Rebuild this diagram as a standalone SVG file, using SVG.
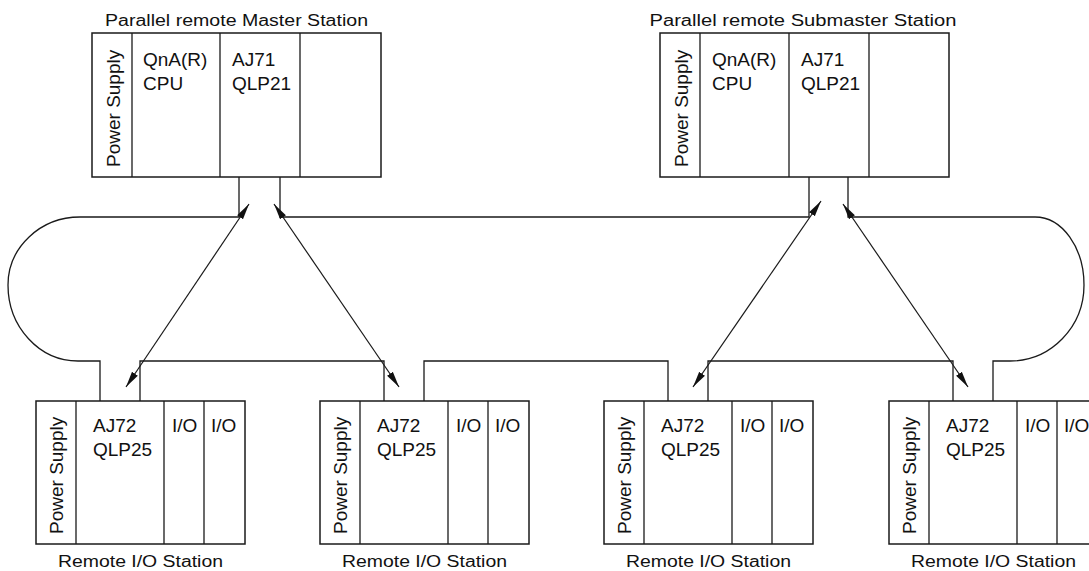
<svg xmlns="http://www.w3.org/2000/svg" width="1089" height="571" viewBox="0 0 1089 571">
<style>
  .bx{fill:#fff;stroke:#1a1a1a;stroke-width:1.5}
  .dv{stroke:#1a1a1a;stroke-width:1.3}
  .t{font-family:"Liberation Sans",Arial,sans-serif;font-size:19px;fill:#111}
  .ps{font-family:"Liberation Sans",Arial,sans-serif;font-size:19px;fill:#111}
  .cap{font-family:"Liberation Sans",Arial,sans-serif;font-size:16px;fill:#111;text-anchor:middle}
  .wire{fill:none;stroke:#1a1a1a;stroke-width:1.3}
  .arr{fill:none;stroke:#1a1a1a;stroke-width:1.2;marker-start:url(#ah);marker-end:url(#ah)}
</style>
<defs>
  <marker id="ah" viewBox="0 0 16 8" refX="16" refY="4" markerWidth="16" markerHeight="8" markerUnits="userSpaceOnUse" orient="auto-start-reverse">
    <path d="M0,0.5 L16,4 L0,7.5 z" fill="#111"/>
  </marker>
</defs>
<rect width="1089" height="571" fill="#fff"/>

<g id="master">
  <text class="cap" x="236.5" y="26" textLength="263" lengthAdjust="spacingAndGlyphs">Parallel remote Master Station</text>
  <rect class="bx" x="92" y="33" width="289" height="144"/>
  <line class="dv" x1="132" y1="33" x2="132" y2="177"/>
  <line class="dv" x1="220" y1="33" x2="220" y2="177"/>
  <line class="dv" x1="300" y1="33" x2="300" y2="177"/>
  <text class="ps" transform="translate(119.5,167) rotate(-90)">Power Supply</text>
  <text class="t" x="143" y="66">QnA(R)</text>
  <text class="t" x="143" y="90">CPU</text>
  <text class="t" x="232" y="66">AJ71</text>
  <text class="t" x="232" y="90">QLP21</text>
</g>

<g id="submaster">
  <text class="cap" x="803" y="26" textLength="307" lengthAdjust="spacingAndGlyphs">Parallel remote Submaster Station</text>
  <rect class="bx" x="660" y="33" width="289" height="144"/>
  <line class="dv" x1="700" y1="33" x2="700" y2="177"/>
  <line class="dv" x1="789" y1="33" x2="789" y2="177"/>
  <line class="dv" x1="869" y1="33" x2="869" y2="177"/>
  <text class="ps" transform="translate(687.5,167) rotate(-90)">Power Supply</text>
  <text class="t" x="712" y="66">QnA(R)</text>
  <text class="t" x="712" y="90">CPU</text>
  <text class="t" x="801" y="66">AJ71</text>
  <text class="t" x="801" y="90">QLP21</text>
</g>

<g id="remote1">
  <rect class="bx" x="36" y="401" width="209" height="143"/>
  <line class="dv" x1="76" y1="401" x2="76" y2="544"/>
  <line class="dv" x1="164" y1="401" x2="164" y2="544"/>
  <line class="dv" x1="204" y1="401" x2="204" y2="544"/>
  <text class="ps" transform="translate(63,534) rotate(-90)">Power Supply</text>
  <text class="t" x="93" y="432">AJ72</text>
  <text class="t" x="93" y="456">QLP25</text>
  <text class="t" x="172" y="432">I/O</text>
  <text class="t" x="211" y="432">I/O</text>
  <text class="cap" x="140.5" y="567" textLength="165" lengthAdjust="spacingAndGlyphs">Remote I/O Station</text>
</g>

<g id="remote2">
  <rect class="bx" x="320" y="401" width="209" height="143"/>
  <line class="dv" x1="360" y1="401" x2="360" y2="544"/>
  <line class="dv" x1="448" y1="401" x2="448" y2="544"/>
  <line class="dv" x1="488" y1="401" x2="488" y2="544"/>
  <text class="ps" transform="translate(347,534) rotate(-90)">Power Supply</text>
  <text class="t" x="377" y="432">AJ72</text>
  <text class="t" x="377" y="456">QLP25</text>
  <text class="t" x="456" y="432">I/O</text>
  <text class="t" x="495" y="432">I/O</text>
  <text class="cap" x="424.5" y="567" textLength="165" lengthAdjust="spacingAndGlyphs">Remote I/O Station</text>
</g>

<g id="remote3">
  <rect class="bx" x="604" y="401" width="209" height="143"/>
  <line class="dv" x1="644" y1="401" x2="644" y2="544"/>
  <line class="dv" x1="732" y1="401" x2="732" y2="544"/>
  <line class="dv" x1="772" y1="401" x2="772" y2="544"/>
  <text class="ps" transform="translate(631,534) rotate(-90)">Power Supply</text>
  <text class="t" x="661" y="432">AJ72</text>
  <text class="t" x="661" y="456">QLP25</text>
  <text class="t" x="740" y="432">I/O</text>
  <text class="t" x="779" y="432">I/O</text>
  <text class="cap" x="708.5" y="567" textLength="165" lengthAdjust="spacingAndGlyphs">Remote I/O Station</text>
</g>

<g id="remote4">
  <rect class="bx" x="889" y="401" width="209" height="143"/>
  <line class="dv" x1="929" y1="401" x2="929" y2="544"/>
  <line class="dv" x1="1017" y1="401" x2="1017" y2="544"/>
  <line class="dv" x1="1057" y1="401" x2="1057" y2="544"/>
  <text class="ps" transform="translate(916,534) rotate(-90)">Power Supply</text>
  <text class="t" x="946" y="432">AJ72</text>
  <text class="t" x="946" y="456">QLP25</text>
  <text class="t" x="1025" y="432">I/O</text>
  <text class="t" x="1064" y="432">I/O</text>
  <text class="cap" x="993.5" y="567" textLength="165" lengthAdjust="spacingAndGlyphs">Remote I/O Station</text>
</g>

<g id="connectors">
  <path class="wire" d="M239,177 V217 H80 A72,68 0 0 0 8,285 A70,76 0 0 0 78,361 H100 V401"/>
  <path class="wire" d="M280,177 V217 H809 V177"/>
  <path class="wire" d="M848,177 V217 H1035 A49,68 0 0 1 1084,285 A74,76 0 0 1 1010,361 H993 V401"/>
  <path class="wire" d="M140,401 V361 H384 V401"/>
  <path class="wire" d="M424,401 V361 H668 V401"/>
  <path class="wire" d="M708,401 V361 H953 V401"/>
  <line class="arr" x1="249" y1="204" x2="126" y2="387"/>
  <line class="arr" x1="274" y1="204" x2="399" y2="387"/>
  <line class="arr" x1="821" y1="201" x2="693" y2="387"/>
  <line class="arr" x1="843" y1="204" x2="968" y2="387"/>
</g>
</svg>
